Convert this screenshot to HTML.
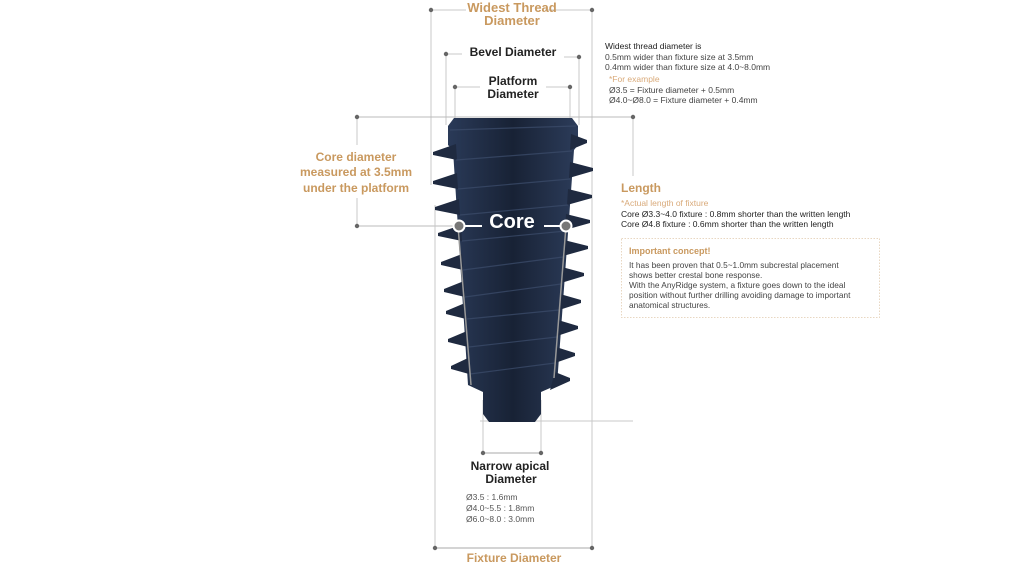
<!DOCTYPE html>
<html><head><meta charset="utf-8"><style>
html,body{margin:0;padding:0;background:#fff;}
svg{display:block;}
text{font-family:"Liberation Sans",sans-serif;}
</style></head><body>
<svg width="1024" height="565" viewBox="0 0 1024 565" xmlns="http://www.w3.org/2000/svg">
<defs>
<linearGradient id="g" x1="0" x2="1" y1="0" y2="0">
<stop offset="0" stop-color="#2a3a58"/><stop offset="0.5" stop-color="#182235"/><stop offset="1" stop-color="#2c3c5a"/>
</linearGradient>
</defs>
<g stroke="#c8c8c8" stroke-width="1" fill="none">
<line x1="431" y1="10" x2="466" y2="10"/><line x1="545" y1="10" x2="592" y2="10"/>
<line x1="431" y1="10" x2="431" y2="185"/><line x1="592" y1="10" x2="592" y2="548"/>
<line x1="446" y1="54" x2="462" y2="54"/><line x1="564" y1="57" x2="579" y2="57"/>
<line x1="446" y1="54" x2="446" y2="125"/><line x1="579" y1="57" x2="579" y2="125"/>
<line x1="455" y1="87" x2="480" y2="87"/><line x1="546" y1="87" x2="570" y2="87"/>
<line x1="455" y1="87" x2="455" y2="120"/><line x1="570" y1="87" x2="570" y2="120"/>
<line x1="357" y1="117" x2="633" y2="117" stroke="#bbb"/>
<line x1="633" y1="117" x2="633" y2="176"/>
<line x1="480" y1="421" x2="633" y2="421"/>
<line x1="357" y1="117" x2="357" y2="145"/><line x1="357" y1="198" x2="357" y2="226"/>
<line x1="357" y1="226" x2="458" y2="226" stroke="#bbb"/>
<line x1="435" y1="205" x2="435" y2="548"/>
<line x1="435" y1="548" x2="592" y2="548" stroke="#aaa"/>
<line x1="483" y1="400" x2="483" y2="453"/><line x1="541" y1="400" x2="541" y2="453"/>
<line x1="483" y1="453" x2="541" y2="453" stroke="#aaa"/>
</g>
<g fill="url(#g)">
<path d="M454 118 L572 118 L578 126 L578 145 L574 150 L557 385 L541 392 L541 414 L535 422 L489 422 L483 414 L483 392 L468 385 L453 150 L448 145 L448 126 Z"/>
</g>
<g fill="#1f2a40">
<polygon points="456,144 433,152 433,155 457,160"/>
<polygon points="457,173 433,181 433,184 458,189"/>
<polygon points="459,199 435,207 435,210 460,215"/>
<polygon points="461,225 438,233 438,236 462,241"/>
<polygon points="462,254 441,262 441,265 463,270"/>
<polygon points="464,281 444,289 444,292 465,297"/>
<polygon points="465,303 446,311 446,314 466,319"/>
<polygon points="467,331 448,339 448,342 468,347"/>
<polygon points="468,358 451,366 451,369 469,374"/>
<polygon points="571,134 587,140 587,143 570,150"/>
<polygon points="570,162 593,168 593,171 569,178"/>
<polygon points="568,189 592,195 592,198 567,205"/>
<polygon points="566,214 590,220 590,223 565,230"/>
<polygon points="564,240 588,246 588,249 563,256"/>
<polygon points="562,267 584,273 584,276 561,283"/>
<polygon points="560,294 581,300 581,303 559,310"/>
<polygon points="558,320 578,326 578,329 557,336"/>
<polygon points="556,347 575,353 575,356 555,363"/>
<polygon points="555,372 570,378 570,381 550,390"/>
</g>
<g stroke="#3a4a68" stroke-width="1.2" opacity="0.8">
<line x1="450" y1="130" x2="576" y2="126"/><line x1="456" y1="160" x2="572" y2="151"/>
<line x1="458" y1="189" x2="570" y2="179"/><line x1="460" y1="215" x2="568" y2="205"/><line x1="462" y1="241" x2="566" y2="231"/>
<line x1="463" y1="270" x2="563" y2="257"/><line x1="465" y1="297" x2="561" y2="284"/>
<line x1="467" y1="319" x2="559" y2="310"/><line x1="469" y1="347" x2="557" y2="337"/>
<line x1="470" y1="374" x2="555" y2="363"/>
</g>
<g stroke="#999" stroke-width="1.5"><line x1="458" y1="226" x2="471" y2="385"/><line x1="566" y1="226" x2="554" y2="378"/>
<line x1="464" y1="226" x2="482" y2="226" stroke="#fff" stroke-width="2"/><line x1="544" y1="226" x2="561" y2="226" stroke="#fff" stroke-width="2"/></g>
<circle cx="459" cy="226" r="5.5" fill="#777" stroke="#fff" stroke-width="2"/>
<circle cx="566" cy="226" r="5.5" fill="#777" stroke="#fff" stroke-width="2"/>
<text x="512" y="228" font-size="20" font-weight="bold" fill="#fff" text-anchor="middle">Core</text>
<g fill="#666">
<circle cx="431" cy="10" r="2.2"/><circle cx="592" cy="10" r="2.2"/>
<circle cx="446" cy="54" r="2.2"/><circle cx="579" cy="57" r="2.2"/>
<circle cx="455" cy="87" r="2.2"/><circle cx="570" cy="87" r="2.2"/>
<circle cx="357" cy="117" r="2.2"/><circle cx="357" cy="226" r="2.2"/><circle cx="633" cy="117" r="2.2"/>
<circle cx="483" cy="453" r="2.2"/><circle cx="541" cy="453" r="2.2"/>
<circle cx="435" cy="548" r="2.2"/><circle cx="592" cy="548" r="2.2"/>
</g>
<g font-weight="bold" text-anchor="middle">
<text x="512" y="12" font-size="13" fill="#c9995f">Widest Thread</text>
<text x="512" y="25" font-size="13" fill="#c9995f">Diameter</text>
<text x="513" y="56" font-size="12" fill="#222">Bevel Diameter</text>
<text x="513" y="85" font-size="12" fill="#222">Platform</text>
<text x="513" y="98" font-size="12" fill="#222">Diameter</text>
<text x="356" y="161" font-size="12" fill="#c9995f">Core diameter</text>
<text x="356" y="176" font-size="12" fill="#c9995f">measured at 3.5mm</text>
<text x="356" y="192" font-size="12" fill="#c9995f">under the platform</text>
<text x="510" y="470" font-size="12" fill="#222">Narrow apical</text>
<text x="511" y="483" font-size="12" fill="#222">Diameter</text>
<text x="514" y="562" font-size="12" fill="#c9995f">Fixture Diameter</text>
</g>
<g font-size="8.5" fill="#555">
<text x="466" y="500">Ø3.5 : 1.6mm</text>
<text x="466" y="511">Ø4.0~5.5 : 1.8mm</text>
<text x="466" y="522">Ø6.0~8.0 : 3.0mm</text>
</g>
<g font-size="8.5" fill="#444">
<text x="605" y="49" fill="#222">Widest thread diameter is</text>
<text x="605" y="60">0.5mm wider than fixture size at 3.5mm</text>
<text x="605" y="70">0.4mm wider than fixture size at 4.0~8.0mm</text>
<text x="609" y="82" fill="#d9aa7a">*For example</text>
<text x="609" y="93">Ø3.5 = Fixture diameter + 0.5mm</text>
<text x="609" y="103">Ø4.0~Ø8.0 = Fixture diameter + 0.4mm</text>
<text x="621" y="206" fill="#d9aa7a">*Actual length of fixture</text>
<text x="621" y="217" fill="#222">Core Ø3.3~4.0 fixture : 0.8mm shorter than the written length</text>
<text x="621" y="227" fill="#222">Core Ø4.8 fixture : 0.6mm shorter than the written length</text>
</g>
<text x="621" y="192" font-size="12" font-weight="bold" fill="#c9995f">Length</text>
<rect x="621.5" y="238.5" width="258" height="79" fill="none" stroke="#e8d7c2" stroke-dasharray="1.5,1.5"/>
<text x="629" y="254" font-size="9" font-weight="bold" fill="#c9995f">Important concept!</text>
<g font-size="8.3" fill="#444">
<text x="629" y="268">It has been proven that 0.5~1.0mm subcrestal placement</text>
<text x="629" y="278">shows better crestal bone response.</text>
<text x="629" y="288">With the AnyRidge system, a fixture goes down to the ideal</text>
<text x="629" y="298">position without further drilling avoiding damage to important</text>
<text x="629" y="308">anatomical structures.</text>
</g>
</svg>
</body></html>
